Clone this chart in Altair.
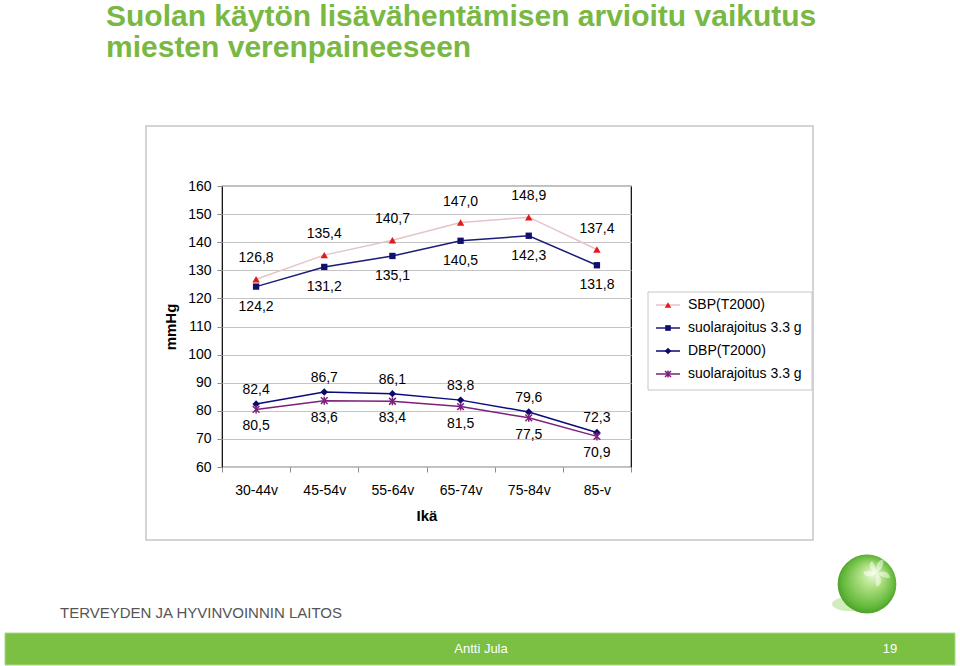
import altair as alt
import pandas as pd

# ---------------- data ----------------
categories = ["30-44v", "45-54v", "55-64v", "65-74v", "75-84v", "85-v"]
sbp_t2000 = [126.8, 135.4, 140.7, 147.0, 148.9, 137.4]
sbp_salt = [124.2, 131.2, 135.1, 140.5, 142.3, 131.8]
dbp_t2000 = [82.4, 86.7, 86.1, 83.8, 79.6, 72.3]
dbp_salt = [80.5, 83.6, 83.4, 81.5, 77.5, 70.9]
legend_names = ["SBP(T2000)", "suolarajoitus 3.3 g", "DBP(T2000)", "suolarajoitus 3.3 g"]
y_ticks = list(range(60, 161, 10))

title_lines = ["Suolan käytön lisävähentämisen arvioitu vaikutus", "miesten verenpaineeseen"]
org_name = "TERVEYDEN JA HYVINVOINNIN LAITOS"
author = "Antti Jula"
page_no = "19"

# ---------------- layout ----------------
W, H = 409, 281          # plot area
PL, PT = 222, 186        # plot area origin on the page
FONT = "Liberation Sans"
ASTERISK = "M-1,-1L1,1M-1,1L1,-1M0,-1.2L0,1.2"
ELLIPSE = "M-1,0A1,0.4,0,1,0,1,0A1,0.4,0,1,0,-1,0Z"
PETALS = ("M0,0C-0.2,-0.6,0.2,-1,0.45,-0.95C0.5,-0.6,0.3,-0.2,0,0Z"
          "M0,0C0.6,-0.3,0.95,0.05,0.9,0.35C0.55,0.4,0.2,0.2,0,0Z"
          "M0,0C0.5,0.5,0.25,0.95,-0.05,0.95C-0.15,0.6,-0.1,0.3,0,0Z"
          "M0,0C-0.6,0.45,-0.95,0.2,-0.95,-0.1C-0.6,-0.2,-0.3,-0.1,0,0Z"
          "M0,0C-0.65,-0.2,-0.6,-0.7,-0.35,-0.85C-0.15,-0.6,-0.1,-0.3,0,0Z")

styles = [
    dict(vals=sbp_t2000, line="#e6c3c6", mark="#e3191c", shape="triangle-up", filled=True, size=55, dy=-21),
    dict(vals=sbp_salt, line="#1b1b78", mark="#10106e", shape="square", filled=True, size=40, dy=20),
    dict(vals=dbp_t2000, line="#0a0a78", mark="#0a0a6e", shape="diamond", filled=True, size=55, dy=-14),
    dict(vals=dbp_salt, line="#7d1f7d", mark="#7d1f7d", shape=ASTERISK, filled=False, size=45, dy=17),
]

x_enc = alt.X(
    "age:N",
    sort=categories,
    scale=alt.Scale(domain=categories, paddingInner=0, paddingOuter=0),
    axis=alt.Axis(title="Ikä", labelAngle=0, tickBand="extent", grid=False, domain=False,
                  labelFontSize=14, labelColor="black", labelFont=FONT, labelPadding=11,
                  tickSize=5, tickColor="#8c8c8c", titleFontSize=15, titleFont=FONT,
                  titleFontWeight="bold", titleColor="black", titlePadding=11),
)
y_enc = alt.Y(
    "value:Q",
    scale=alt.Scale(domain=[60, 160], nice=False, zero=False),
    axis=alt.Axis(values=y_ticks, title="mmHg", grid=True, gridColor="#c4c4c4", domain=False,
                  labelFontSize=14, labelColor="black", labelFont=FONT, labelPadding=6,
                  tickSize=5, tickColor="#8c8c8c", titleFontSize=15, titleFont=FONT,
                  titleFontWeight="bold", titleColor="black", titlePadding=9),
)

dummy = pd.DataFrame({"d": [0]})


def deco_text(text, x, y, **kw):
    return alt.Chart(dummy).mark_text(text=text, font=FONT, **kw).encode(
        x=alt.value(x - PL), y=alt.value(y - PT))


def deco_rect(x1, y1, x2, y2, **kw):
    return alt.Chart(dummy).mark_rect(**kw).encode(
        x=alt.value(x1 - PL), x2=alt.value(x2 - PL), y=alt.value(y1 - PT), y2=alt.value(y2 - PT))


def deco_symbol(shape, x, y, size, **kw):
    return alt.Chart(dummy).mark_point(shape=shape, size=size, opacity=1, **kw).encode(
        x=alt.value(x - PL), y=alt.value(y - PT))


layers = []

# outer chart frame
layers.append(deco_rect(146, 126, 813, 540, fill="transparent", stroke="#c6c6c6", strokeWidth=1.5))

# data series
for s in styles:
    df = pd.DataFrame({"age": categories, "value": s["vals"]})
    base = alt.Chart(df).encode(x=x_enc, y=y_enc)
    layers.append(base.mark_line(color=s["line"], strokeWidth=1.5))
    if s["filled"]:
        pt = base.mark_point(shape=s["shape"], filled=True, color=s["mark"], size=s["size"], opacity=1)
    else:
        pt = base.mark_point(shape=s["shape"], filled=False, color=s["mark"], size=s["size"],
                             opacity=1, strokeWidth=1.5)
    layers.append(pt)
    layers.append(
        base.transform_calculate(lab="replace(format(datum.value, '.1f'), '.', ',')")
        .mark_text(dy=s["dy"], fontSize=14, font=FONT, color="black")
        .encode(text="lab:N")
    )

# legend
layers.append(deco_rect(648, 292, 812, 390, fill="white", stroke="#c6c6c6", strokeWidth=1))
for i, (name, s) in enumerate(zip(legend_names, styles)):
    yy = 305 + 23 * i
    layers.append(alt.Chart(dummy).mark_rule(color=s["line"], strokeWidth=1.5).encode(
        x=alt.value(656 - PL), x2=alt.value(680 - PL), y=alt.value(yy - PT)))
    layers.append(deco_symbol(s["shape"], 668, yy, s["size"] * 0.8, filled=s["filled"],
                              color=s["mark"], strokeWidth=1.5))
    layers.append(deco_text(name, 688, yy, align="left", baseline="middle", fontSize=14, color="black"))

# slide title (two lines)
layers.append(deco_text(title_lines, 106, 26, align="left", baseline="alphabetic", lineHeight=31,
                        fontSize=30, fontWeight="bold", color="#78b843"))

# organisation name
layers.append(deco_text(org_name, 60, 618, align="left", baseline="alphabetic",
                        fontSize=15, color="#555555"))

# logo sphere
layers.append(deco_symbol(ELLIPSE, 850, 604, 1300, filled=True, color="#c6e9ae", fillOpacity=0.8,
                          strokeWidth=0))
sphere_fill = {
    "gradient": "radial",
    "x1": 0.62, "y1": 0.3, "r1": 0.0,
    "x2": 0.5, "y2": 0.5, "r2": 0.55,
    "stops": [
        {"offset": 0.0, "color": "#f1fde6"},
        {"offset": 0.35, "color": "#aee082"},
        {"offset": 0.8, "color": "#63b83a"},
        {"offset": 1.0, "color": "#449522"},
    ],
}
layers.append(deco_symbol("circle", 867, 584, 3450, filled=True, fill=sphere_fill, strokeWidth=0))
layers.append(deco_symbol(PETALS, 877, 573, 800, filled=True, color="white", fillOpacity=0.5,
                          strokeWidth=0))

# footer bar
layers.append(deco_rect(5, 633, 955, 665, fill="#7bbf43", stroke="#a9d88a", strokeWidth=1))
layers.append(deco_text(author, 481, 649, align="center", baseline="middle", fontSize=13, color="white"))
layers.append(deco_text(page_no, 890, 649, align="center", baseline="middle", fontSize=13, color="white"))

chart = (
    alt.layer(*layers)
    .properties(
        width=W,
        height=H,
        padding={"left": PL, "top": PT, "right": 960 - PL - W, "bottom": 666 - PT - H},
        autosize=alt.AutoSizeParams(type="none"),
        background="white",
    )
    .configure_view(stroke="black", strokeWidth=1.2)
)

chart.save("out.html", embed_options={"renderer": "svg", "actions": False})
